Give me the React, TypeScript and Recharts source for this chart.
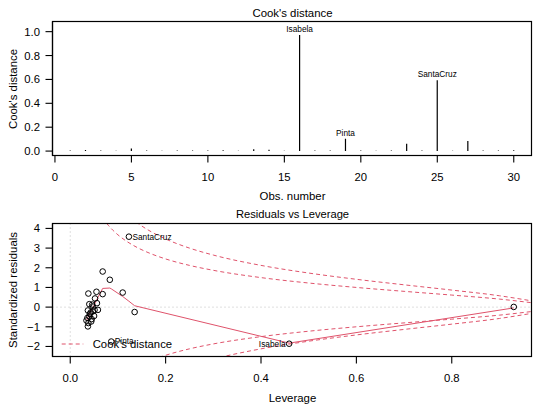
import React from 'react';
import { ComposedChart, Bar, Scatter, Line, XAxis, YAxis, ReferenceLine, LabelList } from 'recharts';

const FONT = '"Liberation Sans", Arial, Helvetica, sans-serif';
const RED = '#DF536B';

// observation index, Cook's distance and the names shown for the influential ones
const obsNumbers = [1, 2, 3, 4, 5, 6, 7, 8, 9, 10, 11, 12, 13, 14, 15, 16, 17, 18, 19, 20, 21, 22, 23, 24, 25, 26, 27, 28, 29, 30];
const cooksDistance = [0.004, 0.009, 0.004, 0.003, 0.022, 0.004, 0.003, 0.005, 0.004, 0.004, 0.006, 0.003, 0.015, 0.012, 0.003, 0.972, 0.004, 0.005, 0.104, 0.004, 0.003, 0.004, 0.062, 0.004, 0.594, 0.003, 0.084, 0.004, 0.005, 0.006];
const obsNames = ['', '', '', '', '', '', '', '', '', '', '', '', '', '', '', 'Isabela', '', '', 'Pinta', '', '', '', '', '', 'SantaCruz', '', '', '', '', ''];

// hat values and standardized residuals per observation
const leverage = [0.040, 0.055, 0.046, 0.037, 0.110, 0.045, 0.038, 0.052, 0.043, 0.058, 0.037, 0.040, 0.038, 0.056, 0.034, 0.459, 0.047, 0.135, 0.086, 0.051, 0.044, 0.068, 0.083, 0.047, 0.123, 0.930, 0.068, 0.050, 0.041, 0.036];
const stdResiduals = [-0.48, 0.78, 0.13, -0.17, 0.74, -0.61, -0.81, 0.44, -0.27, -0.14, -0.98, 0.15, 0.69, 0.20, -0.68, -1.86, 0.03, -0.25, -1.75, -0.14, -0.73, 0.66, 1.39, -0.22, 3.58, 0.01, 1.81, -0.45, -0.35, -0.55];

// lowess smoother through the residuals
const smoothLeverage = [0.034, 0.040, 0.047, 0.055, 0.068, 0.083, 0.086, 0.110, 0.123, 0.135, 0.459, 0.930];
const smoothResidual = [-0.68, -0.35, -0.05, 0.35, 0.95, 0.97, 0.93, 0.54, 0.30, 0.07, -1.83, -0.04];

// Cook's distance contours (0.5 and 1)
const contourLeverage = [0.06, 0.07, 0.08, 0.09, 0.10, 0.12, 0.14, 0.17, 0.20, 0.25, 0.30, 0.40, 0.50, 0.60, 0.70, 0.80, 0.90, 0.967];
const contourHalf = [4.848, 4.464, 4.153, 3.894, 3.674, 3.317, 3.035, 2.706, 2.449, 2.121, 1.871, 1.5, 1.225, 1.0, 0.802, 0.612, 0.408, 0.226];
const contourOne = [6.856, 6.313, 5.874, 5.508, 5.196, 4.690, 4.293, 3.827, 3.464, 3.0, 2.646, 2.121, 1.732, 1.414, 1.134, 0.866, 0.577, 0.320];

const cookTicksY = [0, 0.2, 0.4, 0.6, 0.8, 1.0];
const obsTicks = [0, 5, 10, 15, 20, 25, 30];
const levTicks = [0, 0.2, 0.4, 0.6, 0.8];
const resTicks = [-2, -1, 0, 1, 2, 3, 4];

const obsDomain = [-0.16, 31.16];
const cookDomain = [-0.037, 1.085];
const levDomain = [-0.0372, 0.9672];
const resDomain = [-2.51, 4.25];

const cookData = obsNumbers.map((n, i) => ({ obs: n, cook: cooksDistance[i], name: obsNames[i] }));
const pointData = leverage.map((h, i) => ({ lev: h, res: stdResiduals[i], name: obsNames[i] }));
const smoothData = smoothLeverage.map((h, i) => ({ lev: h, res: smoothResidual[i] }));
const curve = (vals: number[], sign: number) => contourLeverage.map((h, i) => ({ lev: h, res: sign * vals[i] }));

const LABEL_SIDE_SPLIT = 0.4;
const tickStyle = { fill: '#000', fontSize: 11.3, fontFamily: FONT };
const frameLine = { stroke: '#000', strokeWidth: 1.2 };
const tickMark = { stroke: '#000', strokeWidth: 1.1 };
const minus = (v: number) => (v < 0 ? '\u2212' + Math.abs(v) : String(v));

// plot boxes (left, top, right, bottom) shared by the charts and the frame
const topBox = { l: 52.5, t: 21.5, r: 531.5, b: 155.5 };
const lowBox = { l: 52.5, t: 223.5, r: 531.5, b: 356.5 };
const LOW_TOP = 205;

const CookLabel = (props: any) => {
  const { x, y, width, value } = props;
  if (!value) return null;
  return (
    <text x={x + width / 2} y={y - 3} textAnchor="middle" fontSize={8.3} fontFamily={FONT} fill="#000">
      {value}
    </text>
  );
};

const PointMark = (props: any) => {
  const { cx, cy, payload } = props;
  const left = payload.lev > LABEL_SIDE_SPLIT;
  return (
    <g>
      <circle cx={cx} cy={cy} r={2.8} fill="none" stroke="#000" strokeWidth={1} />
      {payload.name ? (
        <text x={left ? cx - 3.5 : cx + 3.5} y={cy} dy="0.35em" textAnchor={left ? 'end' : 'start'} fontSize={8.3} fontFamily={FONT} fill="#000">
          {payload.name}
        </text>
      ) : null}
    </g>
  );
};

export default function App() {
  return (
    <div style={{ position: 'absolute', left: 0, top: 0, width: 533, height: 408, background: '#fff', fontFamily: FONT }}>
      <div style={{ position: 'absolute', left: 0, top: 0 }}>
        <ComposedChart width={533} height={LOW_TOP} data={cookData}
          margin={{ top: topBox.t, right: 533 - topBox.r, bottom: 0, left: 0 }}>
          <XAxis dataKey="obs" type="number" domain={obsDomain} allowDataOverflow ticks={obsTicks} interval={0}
            axisLine={frameLine} tickLine={tickMark} tickSize={7} tickMargin={10.7} height={LOW_TOP - topBox.b} tick={tickStyle} />
          <YAxis type="number" domain={cookDomain} allowDataOverflow ticks={cookTicksY} interval={0}
            axisLine={frameLine} tickLine={tickMark} tickSize={7} tickMargin={5.5} width={topBox.l} tick={tickStyle}
            tickFormatter={(v: number) => v.toFixed(1)} />
          <Bar dataKey="cook" barSize={1.2} fill="#000" isAnimationActive={false}>
            <LabelList dataKey="name" content={CookLabel} />
          </Bar>
        </ComposedChart>
      </div>
      <div style={{ position: 'absolute', left: 0, top: LOW_TOP }}>
        <ComposedChart width={533} height={408 - LOW_TOP}
          margin={{ top: lowBox.t - LOW_TOP, right: 533 - lowBox.r, bottom: 0, left: 0 }}>
          <XAxis dataKey="lev" type="number" domain={levDomain} allowDataOverflow ticks={levTicks} interval={0}
            axisLine={frameLine} tickLine={tickMark} tickSize={7} tickMargin={10.7} height={408 - lowBox.b} tick={tickStyle}
            tickFormatter={(v: number) => v.toFixed(1)} />
          <YAxis dataKey="res" type="number" domain={resDomain} allowDataOverflow ticks={resTicks} interval={0}
            axisLine={frameLine} tickLine={tickMark} tickSize={7} tickMargin={5.5} width={lowBox.l} tick={tickStyle}
            tickFormatter={minus} />
          <ReferenceLine y={0} stroke="#BEBEBE" strokeDasharray="1 3" />
          <ReferenceLine x={0} stroke="#BEBEBE" strokeDasharray="1 3" />
          <Line data={curve(contourHalf, 1)} dataKey="res" type="monotone" stroke={RED} strokeDasharray="4 3" dot={false} isAnimationActive={false} />
          <Line data={curve(contourOne, 1)} dataKey="res" type="monotone" stroke={RED} strokeDasharray="4 3" dot={false} isAnimationActive={false} />
          <Line data={curve(contourHalf, -1)} dataKey="res" type="monotone" stroke={RED} strokeDasharray="4 3" dot={false} isAnimationActive={false} />
          <Line data={curve(contourOne, -1)} dataKey="res" type="monotone" stroke={RED} strokeDasharray="4 3" dot={false} isAnimationActive={false} />
          <Line data={smoothData} dataKey="res" type="linear" stroke={RED} strokeWidth={1} dot={false} isAnimationActive={false} />
          <Scatter data={pointData} dataKey="res" shape={PointMark} isAnimationActive={false} />
        </ComposedChart>
      </div>
      <svg width={533} height={408} style={{ position: 'absolute', left: 0, top: 0, pointerEvents: 'none' }} fontFamily={FONT}>
        {[topBox, lowBox].map((b, i) => (
          <rect key={i} x={b.l} y={b.t} width={b.r - b.l} height={b.b - b.t} fill="none" stroke="#000" strokeWidth={1.2} />
        ))}
        <text x={292.5} y={16.8} textAnchor="middle" fontSize={11.4}>Cook's distance</text>
        <text x={292.5} y={199.5} textAnchor="middle" fontSize={11.4}>Obs. number</text>
        <text transform="translate(13,89) rotate(-90)" textAnchor="middle" dy="0.35em" fontSize={11.4}>Cook's distance</text>
        <text x={292.5} y={218} textAnchor="middle" fontSize={11.2}>Residuals vs Leverage</text>
        <text x={292.5} y={401.5} textAnchor="middle" fontSize={11.4}>Leverage</text>
        <text transform="translate(13,290) rotate(-90)" textAnchor="middle" dy="0.35em" fontSize={11.4}>Standardized residuals</text>
        <line x1={61.7} y1={344} x2={83.3} y2={344} stroke={RED} strokeDasharray="4 3" />
        <text x={92.7} y={344} dy="0.35em" fontSize={11.3}>Cook's distance</text>
      </svg>
    </div>
  );
}
